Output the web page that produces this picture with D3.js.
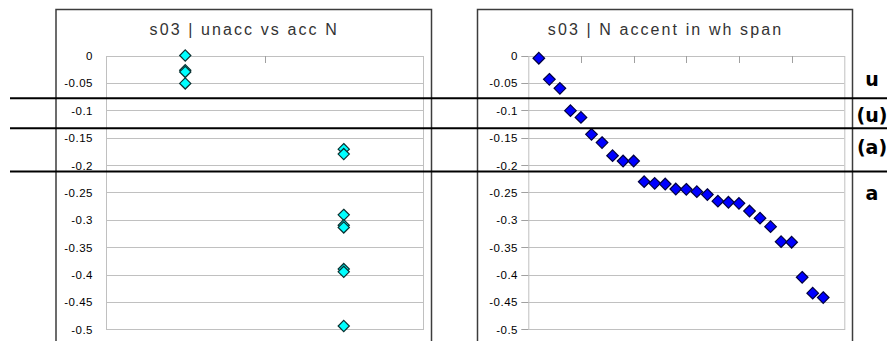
<!DOCTYPE html>
<html>
<head>
<meta charset="utf-8">
<script src="https://cdn.jsdelivr.net/npm/d3@7"></script>
<style>
  html, body { margin: 0; padding: 0; background: #fff; }
  svg { display: block; font-family: "Liberation Sans", Arial, sans-serif; }
</style>
</head>
<body>
<svg id="chart" width="887" height="341"></svg>
<script>
// ---- data ----
const leftTitle = "s03 | unacc vs acc N";
const rightTitle = "s03 | N accent in wh span";
const leftCategories = ["unacc", "acc"];
const unaccValues = [0, -0.027, -0.030, -0.051];
const accValues = [-0.171, -0.180, -0.291, -0.310, -0.314, -0.390, -0.395, -0.494];
const spanValues = [
  -0.005, -0.0435, -0.060, -0.1007, -0.113, -0.144, -0.159, -0.183, -0.1927, -0.1927,
  -0.2305, -0.2335, -0.2347, -0.2438, -0.2444, -0.2487, -0.254, -0.266, -0.268, -0.270,
  -0.284, -0.297, -0.3126, -0.340, -0.341, -0.405, -0.434, -0.442
];
const yTicks = [0, -0.05, -0.1, -0.15, -0.2, -0.25, -0.3, -0.35, -0.4, -0.45, -0.5];
const yTickLabels = ["0", "-0.05", "-0.1", "-0.15", "-0.2", "-0.25", "-0.3", "-0.35", "-0.4", "-0.45", "-0.5"];
const xTicksRight = [0, 5, 10, 15, 20, 25, 30];
// separator levels between accent classes, and the class labels
const bandBreaks = [-0.078, -0.133, -0.212];
const bandLabels = ["u", "(u)", "(a)", "a"];
const bandLabelAt = [-0.0557, -0.121, -0.179, -0.264];

// ---- layout ----
const svg = d3.select("#chart");
const yTop = 55.5, yBottom = 329.3;
const y = d3.scaleLinear().domain([-0.5, 0]).range([yBottom, yTop]);

const gridColor = "#c0c0c0";
const frameColor = "#3c3c3c";

function diamond(r) {
  return `M0,${-r}L${r},0L0,${r}L${-r},0Z`;
}

function drawPanel(cfg) {
  const g = svg.append("g");
  // chart frame
  g.append("rect")
    .attr("x", cfg.frame[0] + 0.5).attr("y", 9.5)
    .attr("width", cfg.frame[1] - cfg.frame[0]).attr("height", 345)
    .attr("fill", "#fff").attr("stroke", frameColor).attr("stroke-width", 1.5);
  // title
  g.append("text")
    .attr("x", (cfg.frame[0] + cfg.frame[1]) / 2 + 1)
    .attr("y", 35)
    .attr("text-anchor", "middle")
    .attr("font-size", 16)
    .attr("letter-spacing", "2.1px")
    .attr("fill", "#333")
    .text(cfg.title);
  // gridlines
  g.selectAll("line.grid").data(yTicks).join("line")
    .attr("class", "grid")
    .attr("x1", cfg.plot[0]).attr("x2", cfg.plot[1])
    .attr("y1", d => Math.round(y(d)) + 0.5).attr("y2", d => Math.round(y(d)) + 0.5)
    .attr("stroke", gridColor).attr("stroke-width", 1);
  // plot border
  g.append("rect")
    .attr("x", cfg.plot[0] + 0.5).attr("y", Math.round(yTop) + 0.5)
    .attr("width", cfg.plot[1] - cfg.plot[0]).attr("height", Math.round(yBottom) - Math.round(yTop))
    .attr("fill", "none").attr("stroke", gridColor);
  // y tick marks (outside)
  if (cfg.yTickLen > 0) {
    g.selectAll("line.ytick").data(yTicks).join("line")
      .attr("class", "ytick")
      .attr("x1", cfg.plot[0] - cfg.yTickLen).attr("x2", cfg.plot[0])
      .attr("y1", d => Math.round(y(d)) + 0.5).attr("y2", d => Math.round(y(d)) + 0.5)
      .attr("stroke", "#a0a0a0");
  }
  // y tick labels
  g.selectAll("text.ylab").data(yTicks).join("text")
    .attr("class", "ylab")
    .attr("x", cfg.labelRight)
    .attr("y", d => y(d) + 4.5)
    .attr("text-anchor", "end")
    .attr("font-size", 11.5)
    .attr("letter-spacing", "0.5px")
    .attr("fill", "#000")
    .text((d, i) => yTickLabels[i]);
  // x-axis tick marks at the top (axis crosses at 0)
  g.selectAll("line.xtick").data(cfg.xTickPos).join("line")
    .attr("class", "xtick")
    .attr("x1", d => Math.round(d) + 0.5).attr("x2", d => Math.round(d) + 0.5)
    .attr("y1", Math.round(yTop)).attr("y2", Math.round(yTop) + 7)
    .attr("stroke", "#a0a0a0");
  return g;
}

// ---- left panel: unaccented vs accented ----
const xLeft = d3.scaleBand().domain(leftCategories).range([106, 423]).padding(0);
const leftPanel = drawPanel({
  frame: [55.5, 431],
  plot: [106, 423],
  title: leftTitle,
  labelRight: 93,
  yTickLen: 0,
  xTickPos: [xLeft("acc")]
});
const leftPoints = [
  ...unaccValues.map(v => ({ c: "unacc", v })),
  ...accValues.map(v => ({ c: "acc", v }))
];
leftPanel.selectAll("path.pt").data(leftPoints).join("path")
  .attr("class", "pt")
  .attr("d", diamond(5.6))
  .attr("transform", d => `translate(${xLeft(d.c) + xLeft.bandwidth() / 2},${y(d.v)})`)
  .attr("fill", "#00ffff")
  .attr("stroke", "#0a3030")
  .attr("stroke-width", 1.2);

// ---- right panel: accent within wh span ----
const xRight = d3.scaleLinear().domain([0, 30]).range([528.3, 844.3]);
const rightPanel = drawPanel({
  frame: [477, 852],
  plot: [528.3, 844.3],
  title: rightTitle,
  labelRight: 518,
  yTickLen: 7,
  xTickPos: xTicksRight.slice(1, -1).map(xRight)
});
rightPanel.selectAll("path.pt").data(spanValues).join("path")
  .attr("class", "pt")
  .attr("d", diamond(5.8))
  .attr("transform", (d, i) => `translate(${xRight(i + 1)},${y(d)})`)
  .attr("fill", "#0000ff")
  .attr("stroke", "#000040")
  .attr("stroke-width", 1.2);

// ---- accent-class separators and labels ----
svg.selectAll("line.band").data(bandBreaks).join("line")
  .attr("class", "band")
  .attr("x1", 10).attr("x2", 887)
  .attr("y1", d => y(d)).attr("y2", d => y(d))
  .attr("stroke", "#000").attr("stroke-width", 2);
svg.selectAll("text.bandlab").data(bandLabels).join("text")
  .attr("class", "bandlab")
  .attr("x", 872)
  .attr("y", (d, i) => y(bandLabelAt[i]))
  .attr("text-anchor", "middle")
  .style("font-family", "'DejaVu Sans', Verdana, sans-serif")
  .attr("font-weight", "bold")
  .attr("font-size", 19)
  .attr("fill", "#000")
  .text(d => d);
</script>
</body>
</html>
